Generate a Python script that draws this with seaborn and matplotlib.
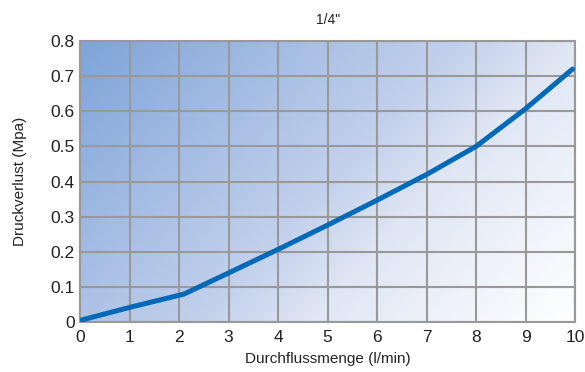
# Pressure loss curve for 1/4" fitting
import matplotlib
matplotlib.use("Agg")
import matplotlib.pyplot as plt
from matplotlib.colors import LinearSegmentedColormap
import seaborn as sns
import numpy as np
import pandas as pd

# Data
flow = [0, 1, 2.1, 3, 4, 5, 6, 7, 8, 9, 9.95]
pressure = [0.005, 0.042, 0.08, 0.14, 0.207, 0.276, 0.347, 0.42, 0.50, 0.607, 0.72]
x_ticks = list(range(0, 11))
y_ticks = [0, 0.1, 0.2, 0.3, 0.4, 0.5, 0.6, 0.7, 0.8]
y_labels = ["0", "0.1", "0.2", "0.3", "0.4", "0.5", "0.6", "0.7", "0.8"]

df = pd.DataFrame({"flow": flow, "pressure": pressure})

sns.set_style("white")
plt.rcParams['font.family'] = ['Liberation Sans', 'DejaVu Sans']

fig = plt.figure(figsize=(5.85, 3.72), dpi=100)
ax = fig.add_axes([0.137, 0.134, 0.846, 0.756])

# Diagonal gradient background (top-left blue -> bottom-right white)
cmap = LinearSegmentedColormap.from_list(
    "bg", [(0, "#7ea4d8"), (0.35, "#aec3e6"), (0.5, "#c2d0ec"),
           (0.65, "#dfe6f4"), (1, "#ffffff")])
gx, gy = np.meshgrid(np.linspace(0, 1, 300), np.linspace(1, 0, 200))
grad = gx * 0.65 + (1 - gy) * 0.35
ax.imshow(grad, cmap=cmap, vmin=0, vmax=1, extent=[0, 10, 0, 0.8],
          aspect="auto", zorder=0, interpolation="bicubic")

sns.lineplot(data=df, x="flow", y="pressure", ax=ax, color="#0069b8",
             linewidth=3.6, zorder=3)

ax.set_xlim(0, 10)
ax.set_ylim(0, 0.8)
ax.set_xticks(x_ticks)
ax.set_yticks(y_ticks)
ax.set_yticklabels(y_labels)
ax.tick_params(axis="both", length=0, labelsize=12.5, colors="#222222")
ax.tick_params(axis="x", pad=6)
ax.tick_params(axis="y", pad=4)
ax.grid(True, color="#999999", linewidth=1.5, zorder=1)
ax.set_axisbelow(False)
for s in ax.spines.values():
    s.set_color("#999999")
    s.set_linewidth(1.5)

ax.set_xlabel("Durchflussmenge (l/min)", fontsize=11, color="#222222", labelpad=5)
ax.set_ylabel("Druckverlust (Mpa)", fontsize=11, color="#222222", labelpad=17)
ax.set_title('1/4"', fontsize=10, color="#222222", pad=12)

fig.savefig("out.png", dpi=100)
